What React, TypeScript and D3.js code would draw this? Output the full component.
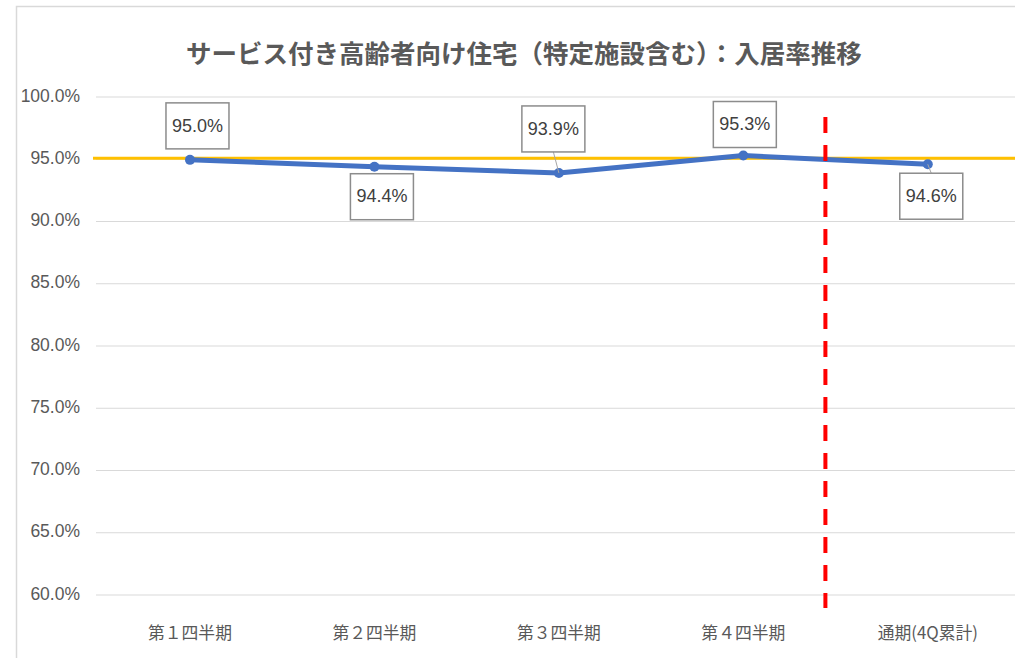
import React from "react";
import * as d3 from "d3";

const categories = ["第１四半期", "第２四半期", "第３四半期", "第４四半期", "通期(4Q累計)"];
const occupancy = [94.95, 94.4, 93.9, 95.3, 94.6];
const labels = ["95.0%", "94.4%", "93.9%", "95.3%", "94.6%"];
const yTicks = [60, 65, 70, 75, 80, 85, 90, 95, 100];
const target = 95;
const title = "サービス付き高齢者向け住宅（特定施設含む）：入居率推移";

// label box offsets from point and leader-line flags (layout only)
const labelOffsets: [number, number][] = [
  [7.5, -34],
  [7.5, 30],
  [-5.5, -44],
  [1.5, -31],
  [3.5, 32],
];
const leaders = [false, false, true, false, true];

const W = 1015;
const H = 658;
const plotLeft = 97.75;
const plotRight = 1020;
const plotTop = 97;
const plotBottom = 595;

export default function App() {
  const x = d3.scaleBand<string>().domain(categories).range([plotLeft, plotRight]);
  const cx = (i: number) => (x(categories[i]) as number) + x.bandwidth() / 2;
  const y = d3.scaleLinear().domain([60, 100]).range([plotBottom, plotTop]);
  const line = d3
    .line<number>()
    .x((_, i) => cx(i))
    .y((d) => y(d));
  const font = "'Liberation Sans', Arial, sans-serif";
  const cjk = "'Noto Sans CJK JP', sans-serif";
  const sepX = cx(3) + (cx(4) - cx(3)) * 0.445;
  const boxW = 63;
  const boxH = 46;

  return (
    <div style={{ position: "absolute", left: 0, top: 0 }}>
      <style>{"body{margin:0}"}</style>
      <svg width={W} height={H} style={{ display: "block", background: "#fff" }}>
        <rect x={16.5} y={6.5} width={W + 20} height={H + 20} fill="#fff" stroke="#d9d9d9" strokeWidth={1.5} />
        <text
          x={524}
          y={56}
          textAnchor="middle"
          dominantBaseline="middle"
          fontFamily={cjk}
          fontWeight="bold"
          fontSize={25.5}
          fill="#595959"
        >
          {title}
        </text>
        {yTicks.map((t) => (
          <g key={t}>
            <line x1={96} x2={W} y1={y(t)} y2={y(t)} stroke="#d9d9d9" strokeWidth={1.2} />
            <text
              x={80}
              y={y(t)}
              textAnchor="end"
              dominantBaseline="middle"
              fontFamily={font}
              fontSize={17.5}
              fill="#595959"
            >
              {t.toFixed(1)}%
            </text>
          </g>
        ))}
        {categories.map((c, i) => (
          <text
            key={c}
            x={cx(i)}
            y={634}
            textAnchor="middle"
            dominantBaseline="middle"
            fontFamily={cjk}
            fontSize={16.8}
            fill="#595959"
          >
            {c}
          </text>
        ))}
        <line x1={93} x2={W} y1={y(target) - 1} y2={y(target) - 1} stroke="#FFC000" strokeWidth={3} />
        <path d={line(occupancy) || ""} fill="none" stroke="#4472C4" strokeWidth={5} strokeLinejoin="round" />
        {occupancy.map((v, i) => (
          <circle key={i} cx={cx(i)} cy={y(v)} r={5} fill="#4472C4" />
        ))}
        <line
          x1={sepX}
          x2={sepX}
          y1={117}
          y2={608}
          stroke="#FF0000"
          strokeWidth={4}
          strokeDasharray="16 12"
        />
        {occupancy.map((v, i) => {
          const px = cx(i);
          const py = y(v);
          const bx = px + labelOffsets[i][0];
          const by = py + labelOffsets[i][1];
          const edgeY = by < py ? by + boxH / 2 : by - boxH / 2;
          return (
            <g key={"l" + i}>
              {leaders[i] && (
                <line x1={bx} x2={px} y1={edgeY} y2={py} stroke="#a6a6a6" strokeWidth={1} />
              )}
              <rect
                x={bx - boxW / 2}
                y={by - boxH / 2}
                width={boxW}
                height={boxH}
                fill="#fff"
                stroke="#8c8c8c"
                strokeWidth={1.5}
              />
              <text
                x={bx}
                y={by + 1}
                textAnchor="middle"
                dominantBaseline="middle"
                fontFamily={font}
                fontSize={18}
                fill="#404040"
              >
                {labels[i]}
              </text>
            </g>
          );
        })}
      </svg>
    </div>
  );
}
